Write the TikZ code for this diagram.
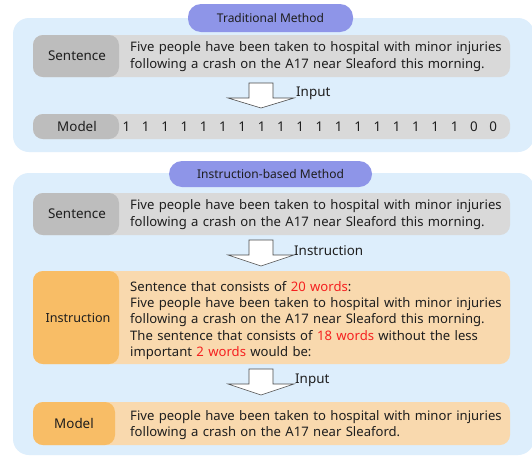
\documentclass[tikz,border=0pt]{standalone}
\usepackage{fontspec}
\setmainfont{Noto Sans}
\definecolor{panelbg}{HTML}{DDEEFC}
\definecolor{pill}{HTML}{8E95E8}
\definecolor{graydark}{HTML}{BDBDBD}
\definecolor{graylight}{HTML}{D9D9D9}
\definecolor{orangedark}{HTML}{F8BD66}
\definecolor{orangelight}{HTML}{F9D9AE}
\definecolor{redtxt}{HTML}{F52020}
\definecolor{txt}{HTML}{1E1E1E}
\begin{document}
\begin{tikzpicture}[x=1pt,y=-1pt,
  panel/.style={fill=panelbg, rounded corners=16pt},
  pillbox/.style={fill=pill, rounded corners=13pt},
  rowlight/.style={rounded corners=10pt},
  body/.style={font=\fontsize{13.1pt}{16.3pt}\selectfont, text=txt, text width=395pt, align=left, anchor=west, inner sep=0pt},
  lab/.style={font=\fontsize{13.4pt}{16pt}\selectfont, text=txt, inner sep=0pt},
  title/.style={font=\fontsize{12pt}{14pt}\selectfont, text=txt, inner sep=0pt},
  blockarrow/.style={fill=white, draw=black!70, line width=0.6pt, line join=miter}
]
\useasboundingbox (0,0) rectangle (532,456);
\fill[white] (0,0) rectangle (532,456);

% panels
\fill[panel] (13,18) rectangle (534,152);
\fill[panel] (13,173) rectangle (534,455);

% titles
\fill[pillbox] (188,4) rectangle (353,32);
\node[title] (t1) at (270.5,18) {Traditional Method};
\fill[pillbox] (169,161) rectangle (372,187);
\node[title] (t2) at (270.5,174) {Instruction-based Method};

% Traditional: sentence row
\fill[rowlight, graylight] (33,35) rectangle (510,77);
\fill[rowlight, graydark] (33,35) rectangle (119,77);
\node[lab] (s1l) at (77,56) {Sentence};
\node[body] (s1t) at (130,56.5) {Five people have been taken to hospital with minor injuries\\following a crash on the A17 near Sleaford this morning.};

% arrow 1
\draw[blockarrow] (249,83) -- ++(0,15) -- ++(-21,0) -- (261,108) -- (294,98) -- ++(-21,0) -- (273,83) -- cycle;
\node[lab, anchor=west] (in1) at (296,93) {Input};

% Traditional: model row
\fill[rowlight, graylight] (33,114) rectangle (510,139);
\fill[rowlight, graydark] (33,114) rectangle (119,139);
\node[lab] (m1l) at (77,126.5) {Model};
\foreach \d [count=\i from 0] in {1,1,1,1,1,1,1,1,1,1,1,1,1,1,1,1,1,1,0,0}
  \node[lab] (d\i) at (126.5+\i*19.3,126.5) {\d};

% Instruction-based: sentence row
\fill[rowlight, graylight] (33,193) rectangle (510,235);
\fill[rowlight, graydark] (33,193) rectangle (119,235);
\node[lab] (s2l) at (77,214) {Sentence};
\node[body] (s2t) at (130,214.5) {Five people have been taken to hospital with minor injuries\\following a crash on the A17 near Sleaford this morning.};

% arrow 2
\draw[blockarrow] (249,240) -- ++(0,15) -- ++(-21,0) -- (261,266) -- (294,255) -- ++(-21,0) -- (273,240) -- cycle;
\node[lab, anchor=west] (in2) at (294,251) {Instruction};

% instruction row
\fill[rowlight, orangelight] (33,271) rectangle (510,364);
\fill[rowlight, orangedark] (33,271) rectangle (119,364);
\node[lab, font=\fontsize{12.6pt}{16pt}\selectfont] (il) at (78,317.5) {Instruction};
\node[body] (it) at (130,320.5) {Sentence that consists of \textcolor{redtxt}{20 words}:\\Five people have been taken to hospital with minor injuries\\following a crash on the A17 near Sleaford this morning.\\The sentence that consists of \textcolor{redtxt}{18 words} without the less\\important \textcolor{redtxt}{2 words} would be:};

% arrow 3
\draw[blockarrow] (249,369) -- ++(0,15) -- ++(-21,0) -- (261,395) -- (294,384) -- ++(-21,0) -- (273,369) -- cycle;
\node[lab, anchor=west] (in3) at (295,380) {Input};

% model row
\fill[rowlight, orangelight] (33,402) rectangle (510,445);
\fill[rowlight, orangedark] (33,402) rectangle (115,445);
\node[lab] (m2l) at (74,423.5) {Model};
\node[body] (m2t) at (130,425) {Five people have been taken to hospital with minor injuries\\following a crash on the A17 near Sleaford.};
\end{tikzpicture}
\end{document}
